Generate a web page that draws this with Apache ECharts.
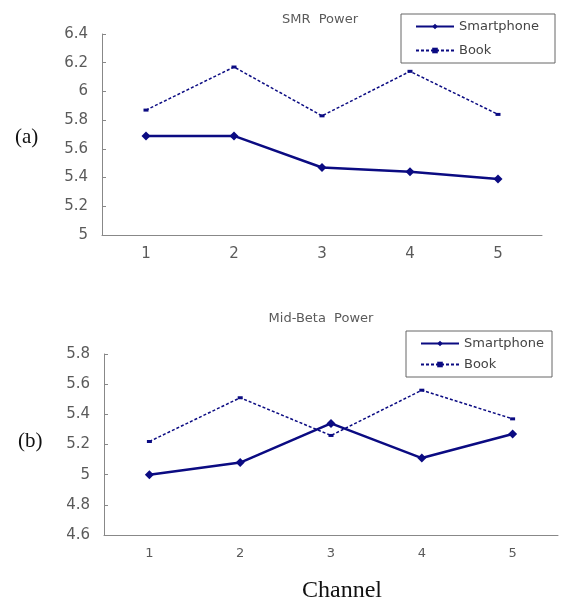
<!DOCTYPE html>
<html>
<head>
    <meta charset="utf-8">
    <title>SMR / Mid-Beta Power</title>
    <script src="https://cdn.jsdelivr.net/npm/echarts@6/dist/echarts.min.js"></script>
    <style>
        html, body {margin: 0; padding: 0; background: #fff;}
        #main {width: 561px; height: 604px;}
    </style>
</head>
<body>
<div id="main"></div>
<script type="text/javascript">
    // data
    var channels = ['1', '2', '3', '4', '5'];
    var smrSmartphone = [5.69, 5.69, 5.47, 5.44, 5.39];
    var smrBook = [5.87, 6.17, 5.83, 6.14, 5.84];
    var betaSmartphone = [5.00, 5.08, 5.34, 5.11, 5.27];
    var betaBook = [5.22, 5.51, 5.26, 5.56, 5.37];
    var smrRange = [5, 6.4];
    var betaRange = [4.6, 5.8];

    var navy = '#0b0b82';
    var grey = '#5a5a5a';
    var sans = 'DejaVu Sans';

    function xAxis(idx, size) {
        return {
            type: 'category', gridIndex: idx, data: channels, boundaryGap: true,
            axisLine: {lineStyle: {color: '#888'}},
            axisTick: {inside: true, length: 4, lineStyle: {color: '#888'}},
            axisLabel: {color: grey, fontFamily: sans, fontSize: size, margin: 12},
            splitLine: {show: false}
        };
    }
    function yAxis(idx, range) {
        return {
            type: 'value', gridIndex: idx, min: range[0], max: range[1], interval: 0.2,
            axisLine: {show: true, lineStyle: {color: '#888'}},
            axisTick: {show: true, inside: true, length: 4, lineStyle: {color: '#888'}},
            axisLabel: {color: grey, fontFamily: sans, fontSize: 15, margin: 14},
            splitLine: {show: false}
        };
    }
    function solid(name, idx, data) {
        return {
            name: name, type: 'line', xAxisIndex: idx, yAxisIndex: idx, data: data,
            symbol: 'diamond', symbolSize: 9, color: navy,
            lineStyle: {width: 2.5, color: navy}, itemStyle: {color: navy}
        };
    }
    function dashed(name, idx, data) {
        return {
            name: name, type: 'line', xAxisIndex: idx, yAxisIndex: idx, data: data,
            symbol: 'rect', symbolSize: [5, 3], color: navy,
            lineStyle: {width: 1.5, type: [3, 2], color: navy}, itemStyle: {color: navy}
        };
    }
    function legend(left, top, padRight, gap) {
        return {
            left: left, top: top, orient: 'vertical',
            data: ['Smartphone', 'Book'],
            borderColor: '#666', borderWidth: 1, borderRadius: 0,
            padding: [6, padRight, 6, 14], itemWidth: 38, itemHeight: 7, itemGap: gap,
            textStyle: {color: '#444', fontFamily: sans, fontSize: 13}
        };
    }

    var chart = echarts.init(document.getElementById('main'));
    chart.setOption({
        animation: false,
        title: [
            {text: 'SMR  Power', left: 315, top: 8, textAlign: 'center',
                textStyle: {color: grey, fontFamily: sans, fontSize: 13, fontWeight: 'normal'}},
            {text: 'Mid-Beta  Power', left: 316, top: 307, textAlign: 'center',
                textStyle: {color: grey, fontFamily: sans, fontSize: 13, fontWeight: 'normal'}},
            {text: '(a)', left: 10, top: 122,
                textStyle: {color: '#111', fontFamily: 'Liberation Serif', fontSize: 21, fontWeight: 'normal'}},
            {text: '(b)', left: 13, top: 426,
                textStyle: {color: '#111', fontFamily: 'Liberation Serif', fontSize: 21, fontWeight: 'normal'}},
            {text: 'Channel', left: 337, top: 574, textAlign: 'center',
                textStyle: {color: '#111', fontFamily: 'Liberation Serif', fontSize: 24, fontWeight: 'normal'}}
        ],
        legend: [legend(401, 14, 16, 11), legend(406, 331, 8, 8)],
        grid: [
            {left: 102, top: 34, width: 440, height: 201},
            {left: 104, top: 354, width: 454, height: 181}
        ],
        xAxis: [xAxis(0, 15), xAxis(1, 13)],
        yAxis: [yAxis(0, smrRange), yAxis(1, betaRange)],
        series: [
            solid('Smartphone', 0, smrSmartphone),
            dashed('Book', 0, smrBook),
            solid('Smartphone', 1, betaSmartphone),
            dashed('Book', 1, betaBook)
        ]
    });
</script>
</body>
</html>
